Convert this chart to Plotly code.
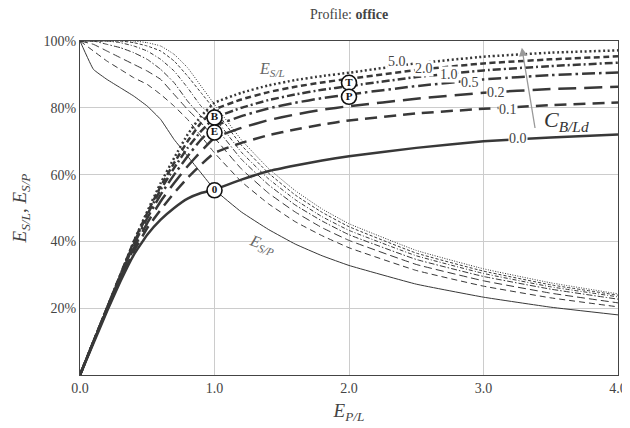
import plotly.graph_objects as go

# E_P/L sample points
x_pl = [0, 0.1, 0.2, 0.3, 0.4, 0.5, 0.6, 0.7, 0.8, 0.9, 1.0,
        1.2, 1.4, 1.6, 1.8, 2.0, 2.5, 3.0, 3.5, 4.0]

c_labels = ["5.0", "2.0", "1.0", "0.5", "0.2", "0.1", "0.0"]

# E_S/L (%) per C_B/Ld
esl_50 = [0, 10, 20, 30, 40, 49, 57.5, 65, 72, 77.5, 81.5, 84.5, 86.7, 88.3, 89.5, 90.5, 93.3, 95.3, 96.5, 97.2]
esl_20 = [0, 10, 20, 30, 40, 48.5, 56.5, 63.5, 70, 75.5, 79.5, 82.5, 84.7, 86.3, 87.6, 88.7, 91.3, 93.3, 94.5, 95.4]
esl_10 = [0, 10, 20, 30, 39.5, 48, 55.5, 62, 68, 73, 77, 80, 82.3, 84, 85.4, 86.5, 89.2, 91.2, 92.5, 93.5]
esl_05 = [0, 10, 20, 29.5, 39, 47, 54, 60, 65.5, 70.5, 74.5, 77.5, 79.8, 81.5, 82.9, 84, 86.5, 88.5, 89.8, 90.6]
esl_02 = [0, 10, 19.5, 29, 38, 45.5, 52, 57.5, 62.5, 67, 71, 74, 76.3, 78, 79.4, 80.5, 82.7, 84.5, 85.6, 86.3]
esl_01 = [0, 10, 19.5, 28.5, 37, 44, 49.5, 54.5, 59, 63, 66.5, 69.5, 71.8, 73.5, 75, 76.2, 78.3, 79.7, 80.8, 81.6]
esl_00 = [0, 9.5, 19, 28, 36, 42, 46.5, 50, 52.8, 54.5, 55.5, 58.5, 61, 62.7, 64.2, 65.5, 68, 70, 71.1, 72]

# E_S/P (%) per C_B/Ld
esp_50 = [100, 100, 100, 100, 100, 99.5, 98.5, 96, 92, 86.5, 81, 70.4, 61.9, 55.2, 49.7, 45.3, 37.3, 31.8, 27.6, 24.3]
esp_20 = [100, 100, 100, 100, 99.5, 98.5, 97, 94, 89.5, 84.5, 79.5, 68.8, 60.5, 53.9, 48.7, 44.4, 36.5, 31.1, 27.0, 23.9]
esp_10 = [100, 100, 100, 99.5, 98.5, 97, 94.5, 91, 86, 80.5, 77, 66.7, 58.8, 52.5, 47.4, 43.3, 35.7, 30.4, 26.4, 23.4]
esp_05 = [100, 100, 99, 98, 96.5, 94.5, 91.5, 87.5, 82, 77.5, 74.5, 64.6, 57.0, 50.9, 46.1, 42.0, 34.6, 29.5, 25.7, 22.7]
esp_02 = [100, 99, 97, 95, 93, 91, 88.5, 84, 79.5, 75.5, 71, 61.7, 54.5, 48.8, 44.1, 40.3, 33.1, 28.2, 24.5, 21.6]
esp_01 = [100, 97, 94, 91.5, 89, 87, 84, 80.5, 76.5, 71.5, 66.5, 57.9, 51.3, 45.9, 41.7, 38.1, 31.3, 26.6, 23.1, 20.4]
esp_00 = [100, 91.5, 88.5, 86, 83.5, 80.5, 76.5, 70.5, 65.5, 60.5, 55.5, 48.8, 43.6, 39.2, 35.7, 32.8, 27.2, 23.3, 20.3, 18.0]

# contour label positions (E_P/L, %)
lab_x = [2.36, 2.56, 2.74, 2.90, 3.09, 3.18, 3.26]
lab_y = [93.9, 91.8, 90.0, 87.6, 84.5, 79.5, 70.8]

# marked operating points
pt_text = ["B", "E", "0", "T", "P"]
pt_x = [1.0, 1.0, 1.0, 2.0, 2.0]
pt_y = [77.1, 72.6, 55.3, 87.5, 83.3]

esl_all = [esl_50, esl_20, esl_10, esl_05, esl_02, esl_01, esl_00]
esp_all = [esp_50, esp_20, esp_10, esp_05, esp_02, esp_01, esp_00]

thick_dash = ["2px,2.6px", "6px,3.5px", "8px,3px,2px,3px", "13px,4px,2.5px,4px",
              "18px,8px", "12px,7px", "solid"]
thin_dash = ["1px,1.5px", "3px,2px", "4px,2px,1px,2px", "6px,2px,1.5px,2px",
             "8px,4px", "6px,4px", "solid"]

LINE = "#383838"
FONT = "Liberation Serif"

fig = go.Figure()

for ys, d in zip(esp_all, thin_dash):
    fig.add_trace(go.Scatter(x=x_pl, y=[v / 100 for v in ys], mode="lines",
                             line=dict(color=LINE, width=1, dash=d, shape="spline", smoothing=0.3),
                             showlegend=False, hoverinfo="skip"))
for ys, d in zip(esl_all, thick_dash):
    fig.add_trace(go.Scatter(x=x_pl, y=[v / 100 for v in ys], mode="lines",
                             line=dict(color=LINE, width=2.5, dash=d, shape="spline", smoothing=0.3),
                             showlegend=False, hoverinfo="skip"))

fig.add_trace(go.Scatter(x=pt_x, y=[v / 100 for v in pt_y], mode="markers+text",
                         text=["<b>%s</b>" % t for t in pt_text], textposition="middle center",
                         textfont=dict(family=FONT, size=11, color="#111"),
                         marker=dict(symbol="circle", size=15, color="white",
                                     line=dict(color="#111", width=1.6)),
                         showlegend=False, hoverinfo="skip"))

annotations = []
for t, lx, ly in zip(c_labels, lab_x, lab_y):
    annotations.append(dict(x=lx, y=ly / 100, xref="x", yref="y", text=t, showarrow=False,
                            font=dict(family=FONT, size=14, color="#444"),
                            bgcolor="white", borderpad=0))

annotations += [
    dict(x=0.5, y=1, xref="paper", yref="paper", yshift=36, text="Profile: <b>office</b>",
         showarrow=False, font=dict(family=FONT, size=14, color="#444")),
    dict(x=1.43, y=0.915, xref="x", yref="y", text="<i>E</i><sub><i>S/L</i></sub>",
         showarrow=False, font=dict(family=FONT, size=16, color="#666")),
    dict(x=1.35, y=0.39, xref="x", yref="y", text="<i>E</i><sub><i>S/P</i></sub>",
         showarrow=False, textangle=20, font=dict(family=FONT, size=16, color="#666")),
    dict(x=3.62, y=0.76, xref="x", yref="y", text="<i>C</i><sub><i>B/Ld</i></sub>",
         showarrow=False, font=dict(family=FONT, size=22, color="#333")),
    dict(x=3.285, y=0.98, ax=3.385, ay=0.735, xref="x", yref="y", axref="x", ayref="y",
         text="", showarrow=True, arrowhead=2, arrowsize=1.3, arrowwidth=1.3,
         arrowcolor="#999"),
]

# page body adds an 8px offset; size and margins compensate for it
fig.update_layout(
    width=622, height=420,
    margin=dict(l=72, r=12, t=33, b=53),
    paper_bgcolor="white", plot_bgcolor="white",
    font=dict(family=FONT, size=14, color="#444"),
    annotations=annotations,
    showlegend=False,
)
fig.update_xaxes(range=[0, 4], tickvals=[0, 1, 2, 3, 4],
                 ticktext=["0.0", "1.0", "2.0", "3.0", "4.0"], automargin=False,
                 showgrid=True, gridcolor="#cccccc", gridwidth=1, zeroline=False,
                 showline=True, linecolor="#444", linewidth=1.2, mirror=True,
                 ticks="", tickfont=dict(family=FONT, size=14, color="#444"),
                 title=dict(text="<i>E</i><sub><i>P/L</i></sub>", standoff=8,
                            font=dict(family=FONT, size=19, color="#444")))
fig.update_yaxes(range=[0, 1], tickvals=[0.2, 0.4, 0.6, 0.8, 1.0],
                 ticktext=["20%", "40%", "60%", "80%", "100%"], automargin=False,
                 showgrid=True, gridcolor="#cccccc", gridwidth=1, zeroline=False,
                 showline=True, linecolor="#444", linewidth=1.2, mirror=True,
                 ticks="", tickfont=dict(family=FONT, size=14, color="#444"),
                 title=dict(text="<i>E</i><sub><i>S/L</i></sub>, <i>E</i><sub><i>S/P</i></sub>",
                            standoff=11, font=dict(family=FONT, size=19, color="#444")))

fig.write_html("out.html")
